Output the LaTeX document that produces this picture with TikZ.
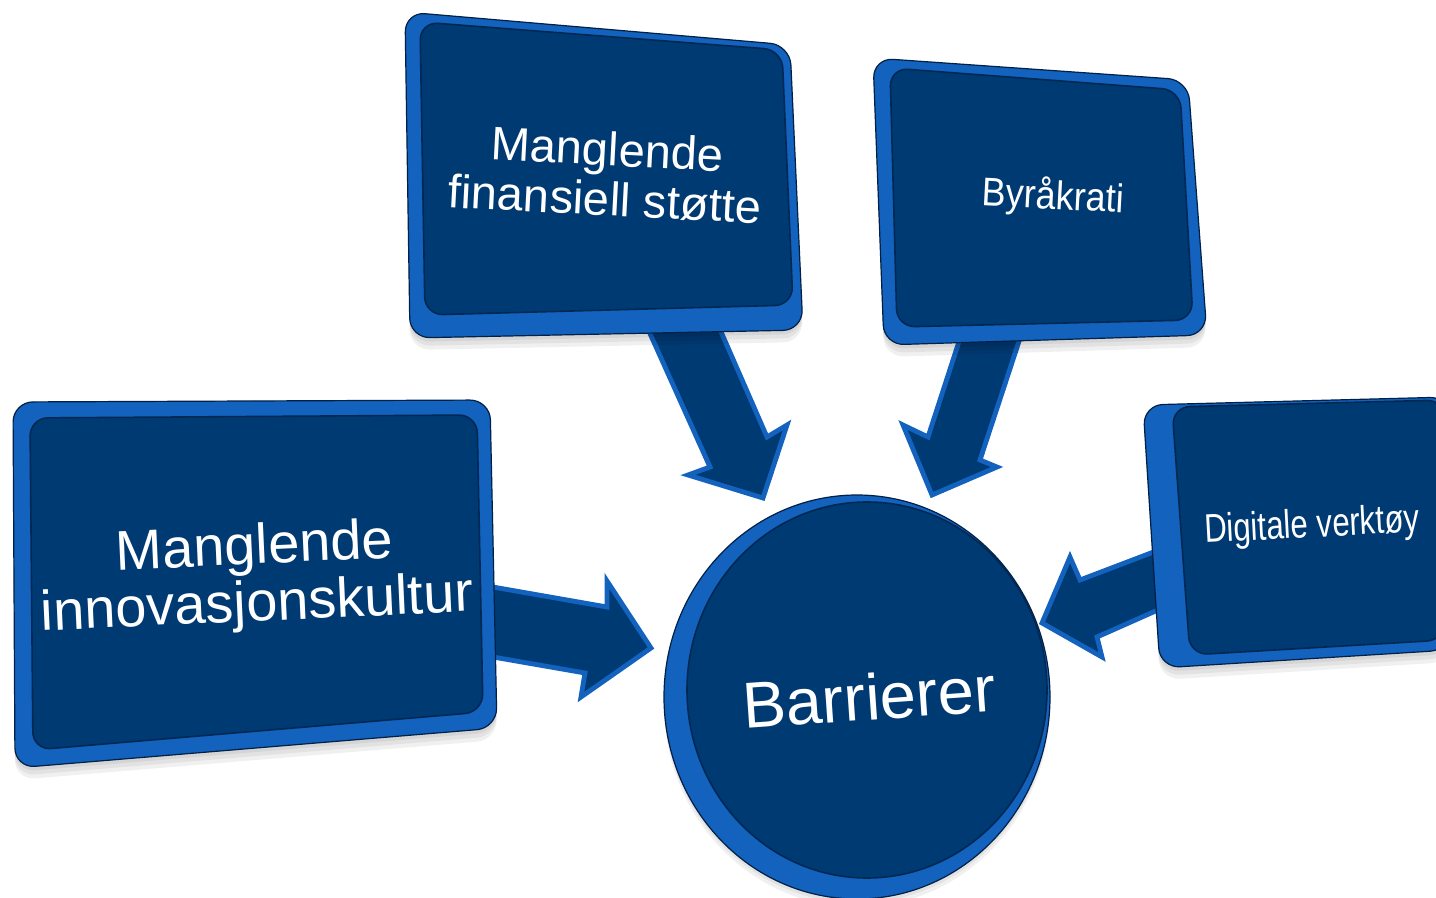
\documentclass[tikz,border=0pt]{standalone}
\usepackage{fontspec}
\setmainfont{Liberation Sans}
\definecolor{face}{RGB}{0,58,115}
\definecolor{bevel}{RGB}{18,98,190}
\definecolor{rim}{RGB}{0,32,70}
\begin{document}
\begin{tikzpicture}[x=0.5pt,y=-0.5pt,
  bevelshape/.style={fill=bevel, draw=rim, line width=0.6pt, rounded corners=10pt},
  faceshape/.style={fill=face, draw=rim!70!face, line width=0.8pt, rounded corners=9pt},
  shadowshape/.style={fill=black, opacity=0.06, rounded corners=10pt},
  arrowshape/.style={fill=face, draw=bevel, line width=2.4pt, line join=miter},
  lbl/.style={text=white, align=center, inner sep=0pt}]
\useasboundingbox (0,0) rectangle (1436,898);
\clip (0,0) rectangle (1436,898);

% ---- block arrows (behind the boxes)
\draw[arrowshape] (643,318) -- (710,467) -- (688,475) -- (763,498) -- (787,425) -- (767,437) -- (715,318) -- cycle;
\draw[arrowshape] (966,320) -- (928,437) -- (903,425) -- (932,495) -- (997,467) -- (980,460) -- (1026,320) -- cycle;
\draw[arrowshape] (470,583) -- (607,607) -- (607,581) -- (651,648) -- (581,697) -- (585,673) -- (470,653) -- cycle;
\draw[arrowshape] (1185,540) -- (1080,580) -- (1070,557) -- (1042,623) -- (1102,657) -- (1097,637) -- (1185,598) -- cycle;

% ---- soft shadows
\foreach \d in {4,8,12}{
  \fill[shadowshape] (405,12+\d) -- (790,45+\d) -- (803,330+\d) -- (410,338+\d) -- cycle;
  \fill[shadowshape] (873,58+\d) -- (1188,80+\d) -- (1207,335+\d) -- (884,345+\d) -- cycle;
  \fill[shadowshape] (1143,405+\d) -- (1450,397+\d) -- (1450,650+\d) -- (1160,668+\d) -- cycle;
  \fill[shadowshape] (13,402+\d) -- (490,400+\d) -- (497,728+\d) -- (15,768+\d) -- cycle;
}

% ---- box: Manglende finansiell stoette
\filldraw[bevelshape] (405,12) -- (790,45) -- (803,330) -- (410,338) -- cycle;
\filldraw[faceshape] (420,22) -- (782,50) -- (793,305) -- (425,315) -- cycle;
\node[lbl, rotate=-3, font=\fontsize{23.5}{25}\selectfont] (fin) at (606,174) {Manglende\\finansiell støtte};

% ---- box: Byraakrati
\filldraw[bevelshape] (873,58) -- (1188,80) -- (1207,335) -- (884,345) -- cycle;
\filldraw[faceshape] (890,68) -- (1180,90) -- (1193,320) -- (897,327) -- cycle;
\node[lbl, rotate=-3, xscale=0.9, font=\fontsize{20}{22}\selectfont] (byr) at (1053,197) {Byråkrati};

% ---- box: Digitale verktoey
\filldraw[bevelshape] (1143,405) -- (1450,397) -- (1450,650) -- (1160,668) -- cycle;
\filldraw[faceshape] (1172,407) -- (1445,400) -- (1445,640) -- (1190,655) -- cycle;
\node[lbl, rotate=3, xscale=0.78, font=\fontsize{20}{22}\selectfont] (dig) at (1312,527) {Digitale verktøy};

% ---- box: Manglende innovasjonskultur
\filldraw[bevelshape] (13,402) -- (490,400) -- (497,728) -- (15,768) -- cycle;
\filldraw[faceshape] (30,418) -- (477,415) -- (483,712) -- (33,750) -- cycle;
\node[lbl, rotate=2.6, font=\fontsize{28}{28.5}\selectfont] (inn) at (256,578) {Manglende\\innovasjonskultur};

% ---- circle: Barrierer
\foreach \d in {4,8}{\fill[black, opacity=0.06] (857,697+\d) ellipse [x radius=193, y radius=202];}
\filldraw[fill=bevel, draw=rim, line width=0.6pt] (857,697) ellipse [x radius=193, y radius=202];
\filldraw[fill=face, draw=rim!70!face, line width=0.8pt] (867,690) ellipse [x radius=180, y radius=188];
\node[lbl, rotate=4, font=\fontsize{32.5}{34}\selectfont] (bar) at (869,697) {Barrierer};
\end{tikzpicture}
\end{document}
